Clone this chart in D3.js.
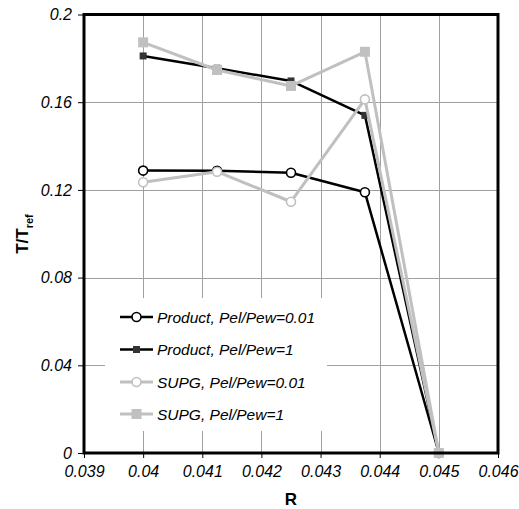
<!DOCTYPE html>
<html>
<head>
<meta charset="utf-8">
<script src="https://cdn.jsdelivr.net/npm/d3@7"></script>
<style>
  html, body { margin: 0; padding: 0; background: #fff; }
  svg { display: block; font-family: "Liberation Sans", Arial, sans-serif; }
</style>
</head>
<body>
<svg id="chart" width="519" height="509"></svg>
<script>
// Radius positions
const radii = [0.04, 0.04125, 0.0425, 0.04375, 0.045];

// Dimensionless temperature T/Tref for each scheme
const productLow  = [0.1288, 0.1287, 0.1278, 0.1189, 0];
const productHigh = [0.1811, 0.1755, 0.1697, 0.1540, 0];
const supgLow     = [0.1235, 0.1283, 0.1146, 0.1613, 0];
const supgHigh    = [0.1873, 0.1747, 0.1674, 0.1830, 0];

const seriesNames = [
  "Product, Pel/Pew=0.01",
  "Product, Pel/Pew=1",
  "SUPG, Pel/Pew=0.01",
  "SUPG, Pel/Pew=1"
];

const xTicks = [0.039, 0.04, 0.041, 0.042, 0.043, 0.044, 0.045, 0.046];
const yTicks = [0, 0.04, 0.08, 0.12, 0.16, 0.2];

const styles = [
  { color: "#000", width: 2.5, marker: "circle", fill: "#fff", size: 4.5 },
  { color: "#000", width: 2.5, marker: "square", fill: "#333", size: 7 },
  { color: "#c0c0c0", width: 3, marker: "circle", fill: "#fff", size: 4.5 },
  { color: "#c0c0c0", width: 3, marker: "square", fill: "#c0c0c0", size: 10 }
];

const series = [productLow, productHigh, supgLow, supgHigh].map((vals, i) => ({
  name: seriesNames[i],
  style: styles[i],
  points: vals.map((v, j) => ({ x: radii[j], y: v }))
}));

const svg = d3.select("#chart");
const m = { left: 84, right: 498, top: 14.5, bottom: 453 };

const x = d3.scaleLinear().domain([0.039, 0.046]).range([m.left, m.right]);
const y = d3.scaleLinear().domain([0, 0.2]).range([m.bottom, m.top]);

// Gridlines
const grid = svg.append("g").attr("stroke", "#a0a0a0").attr("stroke-width", 1);
grid.selectAll("line.v").data(xTicks.slice(1, -1)).join("line")
  .attr("x1", d => Math.round(x(d)) + 0.5).attr("x2", d => Math.round(x(d)) + 0.5)
  .attr("y1", m.top).attr("y2", m.bottom);
grid.selectAll("line.h").data(yTicks.slice(1, -1)).join("line")
  .attr("y1", d => Math.round(y(d)) + 0.5).attr("y2", d => Math.round(y(d)) + 0.5)
  .attr("x1", m.left).attr("x2", m.right);

// Legend background (drawn before the data so lines pass over it)
const legend = svg.append("g");
legend.append("rect")
  .attr("x", 105).attr("y", 298).attr("width", 222).attr("height", 133)
  .attr("fill", "#fff");

// Axes
const fmt = d => String(+d.toFixed(3));
const xAxis = d3.axisBottom(x).tickValues(xTicks).tickFormat(fmt).tickSize(5).tickPadding(8);
const yAxis = d3.axisLeft(y).tickValues(yTicks).tickFormat(fmt).tickSize(6).tickPadding(6);

const gx = svg.append("g").attr("transform", `translate(0,${m.bottom})`).call(xAxis);
const gy = svg.append("g").attr("transform", `translate(${m.left},0)`).call(yAxis);
[gx, gy].forEach(g => {
  g.select(".domain").remove();
  g.selectAll(".tick line").attr("stroke", "#000").attr("stroke-width", 1);
  g.selectAll(".tick text")
    .attr("fill", "#000")
    .style("font-size", "16px")
    .style("font-style", "italic");
});

// Data lines and markers
const line = d3.line().x(d => x(d.x)).y(d => y(d.y));
const plot = svg.append("g");
series.forEach(s => {
  const g = plot.append("g");
  g.append("path")
    .attr("d", line(s.points))
    .attr("fill", "none")
    .attr("stroke", s.style.color)
    .attr("stroke-width", s.style.width)
    .attr("stroke-linejoin", "round");
  drawMarkers(g, s.points.map(p => [x(p.x), y(p.y)]), s.style);
});

function drawMarkers(g, pts, st) {
  if (st.marker === "circle") {
    g.selectAll("circle").data(pts).join("circle")
      .attr("cx", d => d[0]).attr("cy", d => d[1]).attr("r", st.size)
      .attr("fill", st.fill).attr("stroke", st.color).attr("stroke-width", 1.6);
  } else {
    g.selectAll("rect").data(pts).join("rect")
      .attr("x", d => d[0] - st.size / 2).attr("y", d => d[1] - st.size / 2)
      .attr("width", st.size).attr("height", st.size)
      .attr("fill", st.fill).attr("stroke", "none");
  }
}

// Plot frame
svg.append("rect")
  .attr("x", m.left).attr("y", m.top)
  .attr("width", m.right - m.left).attr("height", m.bottom - m.top)
  .attr("fill", "none").attr("stroke", "#000").attr("stroke-width", 3);

// Legend entries
const rowY = [317, 349.5, 382, 414];
series.forEach((s, i) => {
  const g = legend.append("g").attr("transform", `translate(0,${rowY[i]})`);
  g.append("line")
    .attr("x1", 120).attr("x2", 153).attr("y1", 0).attr("y2", 0)
    .attr("stroke", s.style.color).attr("stroke-width", s.style.width);
  drawMarkers(g, [[136.5, 0]], s.style);
  g.append("text")
    .attr("x", 157).attr("y", 5.5)
    .style("font-size", "15.5px").style("font-style", "italic")
    .attr("fill", "#000")
    .text(s.name);
});

// Axis titles
svg.append("text")
  .attr("x", x(0.0425)).attr("y", 505)
  .attr("text-anchor", "middle")
  .style("font-size", "17px").style("font-weight", "bold")
  .text("R");

const yt = svg.append("text")
  .attr("transform", "translate(28,234) rotate(-90)")
  .attr("text-anchor", "middle")
  .style("font-size", "17px").style("font-weight", "bold");
yt.append("tspan").text("T/T");
yt.append("tspan").attr("dy", 5).style("font-size", "11px").text("ref");
</script>
</body>
</html>
